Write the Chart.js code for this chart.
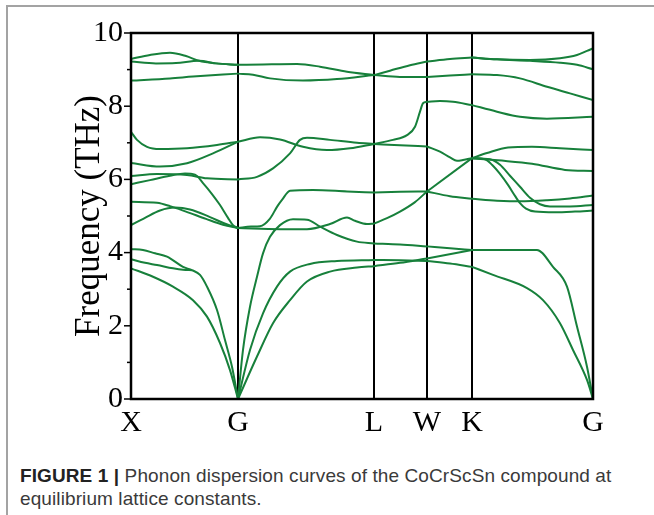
<!DOCTYPE html>
<html lang="en">
<head>
  <meta charset="UTF-8" />
  <title>Phonon dispersion CoCrScSn</title>
  <script src="https://cdn.jsdelivr.net/npm/chart.js"></script>
  <style>
    body { margin: 0; background: #fff; width: 654px; height: 515px; overflow: hidden; position: relative; }
    .frame {
      position: absolute; left: 6px; top: 5px; width: 660px; height: 520px;
      border-left: 2px solid #a3a3a3; border-top: 2px solid #a3a3a3;
    }
    #chart { position: absolute; left: 0; top: 0; }
    .caption {
      position: absolute; left: 20px; top: 464px; width: 625px;
      font-family: 'Liberation Sans', Arial, sans-serif; font-size: 19px; line-height: 23px;
      letter-spacing: 0.1px; color: #3a3a3a;
    }
    .caption b { color: #222; }
  </style>
</head>
<body>
  <div class="frame"></div>
  <canvas id="chart" width="654" height="440"></canvas>
  <div class="caption"><b>FIGURE 1 |</b> Phonon dispersion curves of the CoCrScSn compound at<br>equilibrium lattice constants.</div>

  <script>
    // high symmetry points along the path (k in arbitrary path units)
    const kLabels = ['X', 'G', 'L', 'W', 'K', 'G'];
    const kPoints = [0, 1.07, 2.43, 2.96, 3.41, 4.62];
    const yMajor = [0, 2, 4, 6, 8, 10];
    const yMinor = [1, 3, 5, 7, 9];

    // branches per segment, [k, THz]
    const bandsXG = [
      [[0,9.29],[0.19,9.40],[0.39,9.46],[0.55,9.37],[0.68,9.24],[0.85,9.17],[1.07,9.13]],
      [[0,9.22],[0.25,9.17],[0.45,9.18],[0.68,9.24],[0.85,9.17],[1.07,9.13]],
      [[0,8.70],[0.39,8.76],[0.62,8.81],[1.07,8.89]],
      [[0,7.30],[0.06,7.08],[0.16,6.89],[0.29,6.83],[0.56,6.85],[0.86,6.94],[1.07,7.03]],
      [[0,6.45],[0.29,6.35],[0.56,6.44],[0.82,6.71],[1.07,7.03]],
      [[0,6.09],[0.26,6.15],[0.56,6.12],[0.76,6.03],[1.07,6.00]],
      [[0,5.87],[0.19,5.98],[0.39,6.10],[0.54,6.16],[0.64,6.13],[0.72,5.90],[0.81,5.60],[0.89,5.30],[0.97,4.95],[1.02,4.75],[1.07,4.67]],
      [[0,5.39],[0.26,5.36],[0.39,5.27],[0.55,5.12],[0.75,4.92],[0.92,4.76],[1.07,4.67]],
      [[0,4.75],[0.14,4.95],[0.29,5.15],[0.44,5.23],[0.59,5.18],[0.79,4.97],[0.95,4.78],[1.07,4.67]],
      [[0,4.10],[0.12,4.07],[0.24,3.98],[0.36,3.89],[0.52,3.61],[0.61,3.52],[0.69,3.39],[0.76,3.07],[0.86,2.43],[0.94,1.61],[1.01,0.88],[1.07,0]],
      [[0,3.82],[0.14,3.72],[0.26,3.66],[0.42,3.57],[0.52,3.53],[0.61,3.52]],
      [[0,3.57],[0.22,3.34],[0.42,3.07],[0.62,2.70],[0.76,2.25],[0.89,1.53],[0.99,0.79],[1.07,0]]
    ];
    const bandsGL = [
      [[1.07,9.13],[1.32,9.14],[1.66,9.15],[1.89,9.08],[2.16,8.94],[2.43,8.85]],
      [[1.07,8.89],[1.22,8.86],[1.39,8.76],[1.72,8.70],[2.06,8.74],[2.43,8.85]],
      [[1.07,7.03],[1.29,7.15],[1.49,7.09],[1.72,6.89],[1.96,6.80],[2.19,6.85],[2.43,6.97]],
      [[1.07,6.00],[1.26,6.07],[1.42,6.30],[1.59,6.71],[1.69,7.08],[1.76,7.14],[1.99,7.08],[2.26,7.00],[2.43,6.97]],
      [[1.07,4.67],[1.20,4.71],[1.29,4.72],[1.39,4.93],[1.46,5.25],[1.51,5.44],[1.59,5.69],[1.82,5.71],[2.16,5.67],[2.43,5.64]],
      [[1.07,4.67],[1.49,4.64],[1.76,4.64],[1.99,4.78],[2.16,4.96],[2.24,4.87],[2.36,4.78],[2.43,4.79]],
      [[1.07,0],[1.12,1.34],[1.19,2.52],[1.26,3.34],[1.32,3.98],[1.39,4.43],[1.49,4.75],[1.62,4.91],[1.76,4.90],[1.89,4.71],[2.06,4.48],[2.26,4.30],[2.43,4.25]],
      [[1.07,0],[1.19,1.34],[1.32,2.34],[1.46,3.07],[1.59,3.48],[1.79,3.69],[2.06,3.77],[2.43,3.80]],
      [[1.07,0],[1.26,1.16],[1.42,2.07],[1.59,2.70],[1.76,3.21],[1.99,3.48],[2.26,3.59],[2.43,3.63]]
    ];
    const bandsLW = [
      [[2.43,8.85],[2.59,8.97],[2.79,9.12],[2.96,9.22]],
      [[2.43,8.85],[2.69,8.80],[2.96,8.80]],
      [[2.43,6.97],[2.62,7.08],[2.76,7.21],[2.84,7.44],[2.89,7.85],[2.92,8.08],[2.96,8.12]],
      [[2.43,6.97],[2.69,6.93],[2.96,6.90]],
      [[2.43,5.64],[2.69,5.66],[2.96,5.67]],
      [[2.43,4.79],[2.56,4.94],[2.69,5.12],[2.84,5.38],[2.96,5.67]],
      [[2.43,4.25],[2.69,4.22],[2.96,4.17]],
      [[2.43,3.80],[2.69,3.79],[2.96,3.77]],
      [[2.43,3.63],[2.69,3.72],[2.96,3.84]]
    ];
    const bandsWK = [
      [[2.96,9.22],[3.19,9.29],[3.41,9.33]],
      [[2.96,8.80],[3.19,8.84],[3.41,8.87]],
      [[2.96,8.12],[3.09,8.14],[3.22,8.12],[3.41,8.03]],
      [[2.96,6.90],[3.09,6.76],[3.19,6.60],[3.26,6.51],[3.32,6.53],[3.41,6.58]],
      [[2.96,5.67],[3.41,6.58]],
      [[2.96,5.67],[3.19,5.54],[3.41,5.47]],
      [[2.96,4.17],[3.19,4.12],[3.41,4.07]],
      [[2.96,3.84],[3.41,4.07]],
      [[2.96,3.77],[3.19,3.70],[3.41,3.61]]
    ];
    const bandsKG = [
      [[3.41,9.33],[3.66,9.28],[3.99,9.26],[4.29,9.31],[4.46,9.40],[4.56,9.51],[4.62,9.58]],
      [[3.41,9.33],[3.66,9.28],[3.99,9.24],[4.29,9.19],[4.46,9.13],[4.62,9.01]],
      [[3.41,8.87],[3.66,8.85],[3.89,8.76],[4.16,8.53],[4.39,8.35],[4.62,8.17]],
      [[3.41,8.03],[3.66,7.85],[3.89,7.71],[4.16,7.66],[4.62,7.71]],
      [[3.41,6.58],[3.56,6.72],[3.77,6.87],[4.01,6.89],[4.29,6.85],[4.62,6.80]],
      [[3.41,6.58],[3.67,6.52],[4.01,6.43],[4.34,6.26],[4.62,6.23]],
      [[3.41,6.58],[3.54,6.55],[3.61,6.40],[3.69,6.15],[3.77,5.85],[3.84,5.55],[3.89,5.35],[3.95,5.20],[4.04,5.12],[4.24,5.10],[4.44,5.12],[4.62,5.15]],
      [[3.41,6.58],[3.59,6.55],[3.69,6.40],[3.79,6.10],[3.89,5.80],[3.99,5.50],[4.09,5.32],[4.19,5.26],[4.39,5.26],[4.62,5.30]],
      [[3.41,5.47],[3.66,5.42],[3.89,5.40],[4.16,5.43],[4.39,5.48],[4.62,5.56]],
      [[3.41,4.07],[3.61,4.07],[4.06,4.07],[4.22,3.61],[4.36,3.07],[4.46,1.98],[4.56,0.88],[4.62,0]],
      [[3.41,3.61],[3.62,3.39],[3.96,3.03],[4.12,2.70],[4.29,2.07],[4.42,1.34],[4.56,0.52],[4.62,0]]
    ];

    const green = '#17803b';
    const serif = "'Liberation Serif', 'Times New Roman', serif";

    const datasets = [];
    [bandsXG, bandsGL, bandsLW, bandsWK, bandsKG].forEach(seg => {
      seg.forEach(b => {
        datasets.push({
          data: b.map(p => ({ x: p[0], y: p[1] })),
          showLine: true,
          borderColor: green,
          borderWidth: 2,
          pointRadius: 0,
          cubicInterpolationMode: 'monotone',
          fill: false
        });
      });
    });

    // box round the plot + outward y ticks (major and minor)
    const framePlugin = {
      id: 'frame',
      afterDatasetsDraw(chart) {
        const { ctx, chartArea: a, scales } = chart;
        ctx.save();
        ctx.strokeStyle = '#000';
        ctx.lineWidth = 2.5;
        ctx.strokeRect(a.left, a.top, a.right - a.left, a.bottom - a.top);
        ctx.lineWidth = 1.5;
        yMajor.concat(yMinor).forEach(v => {
          const y = scales.y.getPixelForValue(v);
          const len = yMajor.includes(v) ? 7 : 4;
          ctx.beginPath();
          ctx.moveTo(a.left - len, y);
          ctx.lineTo(a.left, y);
          ctx.stroke();
        });
        ctx.restore();
      }
    };

    new Chart(document.getElementById('chart').getContext('2d'), {
      type: 'scatter',
      data: { datasets },
      options: {
        responsive: false,
        animation: false,
        layout: { padding: { top: 33, right: 61, left: 0, bottom: 0 } },
        plugins: { legend: { display: false }, tooltip: { enabled: false } },
        scales: {
          x: {
            type: 'linear',
            min: kPoints[0],
            max: kPoints[kPoints.length - 1],
            afterBuildTicks: s => { s.ticks = kPoints.map(v => ({ value: v })); },
            afterFit: s => { s.height = 41; },
            ticks: {
              autoSkip: false, maxRotation: 0, padding: 6, color: '#000',
              font: { family: serif, size: 30 },
              callback: (v, i) => kLabels[i]
            },
            grid: { color: '#000', lineWidth: 2, drawTicks: false },
            border: { display: false }
          },
          y: {
            min: 0, max: 10,
            afterBuildTicks: s => { s.ticks = yMajor.map(v => ({ value: v })); },
            afterFit: s => { s.width = 131; },
            ticks: { padding: 8, color: '#000', font: { family: serif, size: 30 } },
            grid: { display: false, drawTicks: false },
            border: { display: false },
            title: {
              display: true, text: 'Frequency (THz)', color: '#000',
              font: { family: serif, size: 35, weight: 'normal' },
              padding: { top: 69, bottom: 0 }
            }
          }
        }
      },
      plugins: [framePlugin]
    });
  </script>
</body>
</html>
